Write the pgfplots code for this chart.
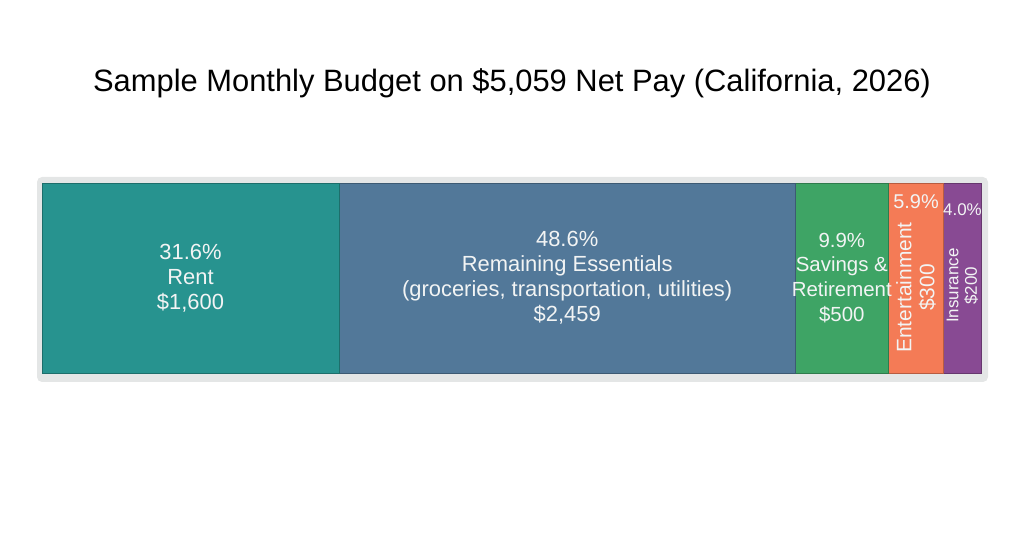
\documentclass[border=0pt]{standalone}
\usepackage{pgfplots}
\pgfplotsset{compat=1.18}
\usepackage{fontspec}
\setmainfont{Liberation Sans}
\definecolor{cRent}{HTML}{27938F}
\definecolor{cEss}{HTML}{527899}
\definecolor{cSav}{HTML}{3EA465}
\definecolor{cEnt}{HTML}{F47B56}
\definecolor{cIns}{HTML}{884A93}
\definecolor{bgbox}{HTML}{E4E6E6}
\definecolor{lbl}{HTML}{F2F4F4}
\tikzset{lab/.style={text=lbl, align=center, font=\fontsize{22}{25}\selectfont}}
\begin{document}
\begin{tikzpicture}[x=1bp,y=1bp]
\useasboundingbox (0,0) rectangle (1024,559);
\fill[bgbox, rounded corners=5bp] (37,177) rectangle (988,382);
\node[font=\fontsize{31}{36}\selectfont] at (512,476) {Sample Monthly Budget on \$5,059 Net Pay (California, 2026)};
\begin{axis}[at={(42bp,186bp)}, anchor=south west, scale only axis,
  width=939bp, height=190bp, xbar stacked, bar width=190bp,
  xmin=0, xmax=5059, ymin=-0.5, ymax=0.5, hide axis, clip=false]
\addplot[fill=cRent, draw=cRent!75!black, line width=0.8bp] coordinates {(1600,0)};
\addplot[fill=cEss, draw=cEss!75!black, line width=0.8bp] coordinates {(2459,0)};
\addplot[fill=cSav, draw=cSav!75!black, line width=0.8bp] coordinates {(500,0)};
\addplot[fill=cEnt, draw=cEnt!75!black, line width=0.8bp] coordinates {(300,0)};
\addplot[fill=cIns, draw=cIns!75!black, line width=0.8bp] coordinates {(200,0)};
\coordinate (pRent) at (axis cs:800,0);
\coordinate (pEss) at (axis cs:2829.5,0);
\coordinate (pSav) at (axis cs:4309,0);
\coordinate (pEntT) at (axis cs:4709,0.40);
\coordinate (pEnt) at (axis cs:4709,-0.05);
\coordinate (pInsT) at (axis cs:4959,0.36);
\coordinate (pIns) at (axis cs:4959,-0.04);
\end{axis}
\node[lab] at (pRent) {31.6\%\\Rent\\\$1,600};
\node[lab] at (pEss) {48.6\%\\Remaining Essentials\\(groceries, transportation, utilities)\\\$2,459};
\node[lab, font=\fontsize{20.5}{25}\selectfont] at (pSav) {9.9\%\\Savings \&\\Retirement\\\$500};
\node[lab, font=\fontsize{20}{24}\selectfont] at (pEntT) {5.9\%};
\node[lab, rotate=90, font=\fontsize{21}{23}\selectfont] at (pEnt) {Entertainment\\\$300};
\node[lab, font=\fontsize{17}{20}\selectfont] at (pInsT) {4.0\%};
\node[lab, rotate=90, font=\fontsize{17}{18.5}\selectfont] at (pIns) {Insurance\\\$200};
\end{tikzpicture}
\end{document}
